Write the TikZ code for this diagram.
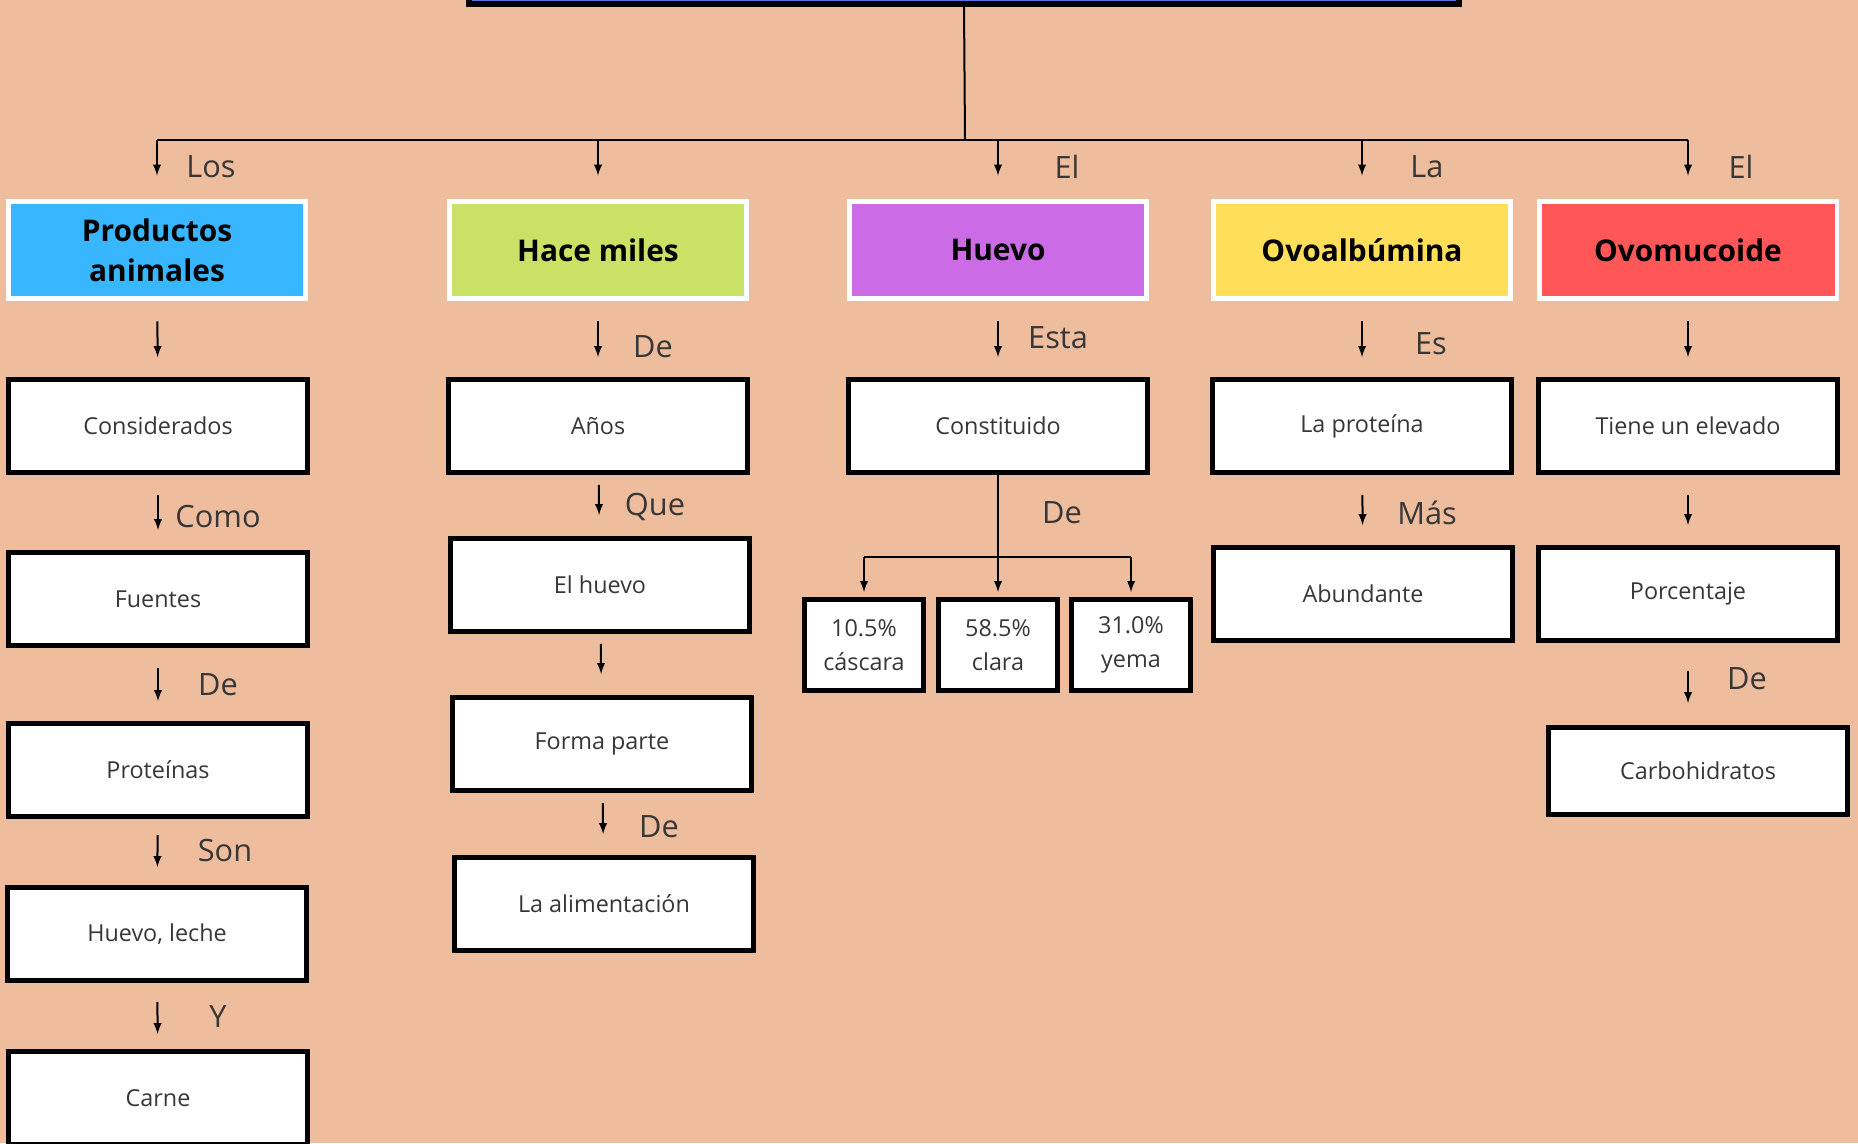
\documentclass[tikz,border=0pt]{standalone}
\usepackage{fontspec}
\setmainfont{Open Sans}
\usetikzlibrary{arrows, positioning}
\definecolor{fondo}{RGB}{238,189,158}
\definecolor{texto}{RGB}{55,55,55}
\definecolor{titulo}{RGB}{92,115,230}
\definecolor{azul}{RGB}{56,182,255}
\definecolor{verde}{RGB}{201,226,101}
\definecolor{morado}{RGB}{203,108,230}
\definecolor{amarillo}{RGB}{255,222,89}
\definecolor{rojo}{RGB}{255,87,87}

\begin{document}
\begin{tikzpicture}[x=0.02cm, y=-0.02cm,
    caja/.style={draw=black, line width=0.1cm, fill=white, minimum width=5.98cm, minimum height=1.86cm,
        inner sep=0pt, text=texto, font=\fontsize{13.3}{16}\selectfont},
    tema/.style={draw=white, line width=0.1cm, minimum width=5.96cm, minimum height=1.96cm,
        inner sep=0pt, align=center, font=\fontsize{17}{22.7}\selectfont\bfseries},
    mini/.style={caja, minimum width=2.38cm, minimum height=1.82cm, align=center,
        font=\fontsize{13.3}{19.3}\selectfont},
    etiq/.style={inner sep=0pt, text=texto, font=\fontsize{17.5}{20}\selectfont},
    linea/.style={line width=0.04cm},
    flecha/.style={linea, -latex, shorten <=0.4cm, shorten >=0.4cm},
    corta/.style={linea, -latex, shorten <=0.2cm, shorten >=0.42cm}]

    \useasboundingbox (0,0) rectangle (1858,1143);
    \clip (0,0) rectangle (1858,1143);
    \fill[fondo] (0,0) rectangle (1858,1143);

    % titulo (cortado arriba)
    \node[draw=black, line width=0.12cm, fill=titulo, minimum width=19.82cm, minimum height=2cm] (tit) at (964,-46) {};
    \coordinate (rama) at (965,140);

    % temas
    \node[tema, fill=azul] (prod) at (157,250) {Productos\\animales};
    \node[tema, fill=verde] (hace) at (598,250) {Hace miles};
    \node[tema, fill=morado] (huevo) at (998,250) {Huevo};
    \node[tema, fill=amarillo] (ovoa) at (1362,250) {Ovoalbúmina};
    \node[tema, fill=rojo] (ovom) at (1688,250) {Ovomucoide};

    \draw[linea] (tit.south) -- (rama);
    \draw[linea] (prod.north |- rama) -- (ovom.north |- rama);
    \foreach \n in {prod,hace,huevo,ovoa,ovom}
        \draw[linea, -latex, shorten >=0.46cm] (\n.north |- rama) -- (\n.north);

    \node[etiq] (l-los) at (211,167) {Los};
    \node[etiq] (l-el1) at (1067,167) {El};
    \node[etiq] (l-la) at (1427,167) {La};
    \node[etiq] (l-el2) at (1741,167) {El};

    % columna 1
    \node[caja] (cons) at (158,426) {Considerados};
    \node[caja] (fuen) at (158,599) {Fuentes};
    \node[caja] (prot) at (158,770) {Proteínas};
    \node[caja] (hlec) at (157,934) {Huevo, leche};
    \node[caja] (carn) at (158,1098) {Carne};

    \draw[flecha] (prod) -- (cons);
    \draw[flecha] (cons) -- (fuen);
    \draw[flecha] (fuen) -- (prot);
    \draw[flecha, shorten <=0.32cm, shorten >=0.36cm] (prot) -- (hlec);
    \draw[flecha, shorten <=0.38cm, shorten >=0.3cm] (hlec) -- (carn);

    \node[etiq] (l-como) at (218,517) {Como};
    \node[etiq] (l-de1) at (218,685) {De};
    \node[etiq] (l-son) at (225,851) {Son};
    \node[etiq] (l-y) at (218,1017) {Y};

    % columna 2
    \node[caja] (anos) at (598,426) {Años};
    \node[caja] (elhu) at (600,585) {El huevo};
    \node[caja] (form) at (602,744) {Forma parte};
    \node[caja] (alim) at (604,904) {La alimentación};

    \draw[flecha] (hace) -- (anos);
    \draw[corta] (anos) -- (elhu);
    \draw[corta] (elhu) -- (form);
    \draw[corta] (form) -- (alim);

    \node[etiq] (l-de2) at (653,347) {De};
    \node[etiq] (l-que) at (655,507) {Que};
    \node[etiq] (l-de3) at (659,827) {De};

    % columna 3
    \node[caja] (cnst) at (998,426) {Constituido};
    \node[mini] (casc) at (864,645) {10.5\%\\cáscara};
    \node[mini] (clar) at (998,645) {58.5\%\\clara};
    \node[mini] (yema) at (1131,645) {31.0\%\\yema};
    \coordinate (bifur) at (998,557);

    \draw[flecha] (huevo) -- (cnst);
    \draw[linea] (cnst.south) -- (bifur);
    \draw[linea] (casc.north |- bifur) -- (yema.north |- bifur);
    \foreach \n in {casc,clar,yema}
        \draw[linea, -latex, shorten >=0.1cm] (\n.north |- bifur) -- (\n.north);

    \node[etiq] (l-esta) at (1058,338) {Esta};
    \node[etiq] (l-de4) at (1062,513) {De};

    % columna 4
    \node[caja] (lapr) at (1362,426) {La proteína};
    \node[caja] (abun) at (1363,594) {Abundante};

    \draw[flecha] (ovoa) -- (lapr);
    \draw[flecha] (lapr) -- (abun);

    \node[etiq] (l-es) at (1431,344) {Es};
    \node[etiq] (l-mas) at (1427,513) {Más};

    % columna 5
    \node[caja] (tien) at (1688,426) {Tiene un elevado};
    \node[caja] (porc) at (1688,594) {Porcentaje};
    \node[caja, minimum height=1.74cm] (carb) at (1698,771) {Carbohidratos};

    \draw[flecha] (ovom) -- (tien);
    \draw[flecha] (tien) -- (porc);
    \draw[flecha, shorten <=0.56cm, shorten >=0.44cm] (porc.south) -- (porc.south |- carb.north);

    \node[etiq] (l-de5) at (1747,679) {De};
\end{tikzpicture}
\end{document}
